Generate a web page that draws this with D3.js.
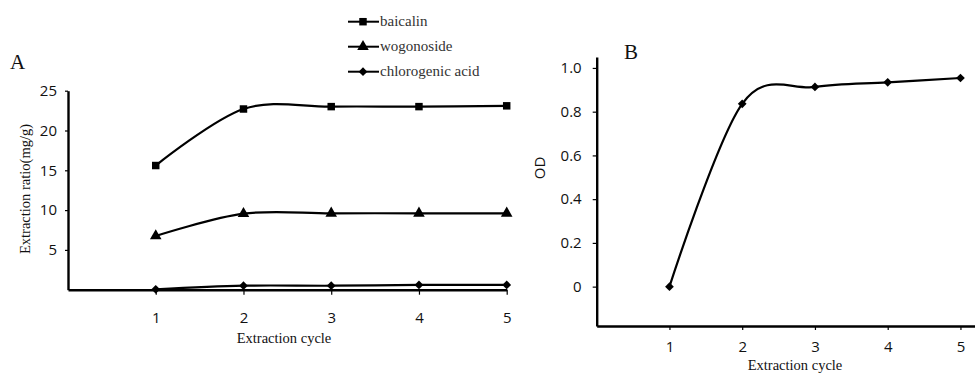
<!DOCTYPE html>
<head>
  <meta charset="utf-8">
  <script src="https://d3js.org/d3.v7.min.js"></script>
  <style>
    body { margin:0; background:#fff; }
  </style>
</head>
<body>
<script>
  var width = 975, height = 374;

  // data
  var cycles = [1, 2, 3, 4, 5];
  var baicalin = [15.6, 22.7, 23.0, 23.0, 23.1];
  var wogonoside = [6.75, 9.55, 9.6, 9.6, 9.6];
  var chlorogenicAcid = [0.05, 0.5, 0.5, 0.6, 0.6];
  var odValues = [0, 0.836, 0.913, 0.934, 0.954];
  var ticksA = [5, 10, 15, 20, 25];
  var ticksB = [0, 0.2, 0.4, 0.6, 0.8, 1.0];
  var seriesNames = ["baicalin", "wogonoside", "chlorogenic acid"];

  var sansFont = "'Open Sans', sans-serif";
  var serifFont = "'Liberation Serif', 'Times New Roman', serif";

  var svg = d3.select("body").append("svg")
    .attr("width", width)
    .attr("height", height);

  // diamonds are squares turned by 45 degrees
  var symbols = {
    "baicalin": {path: d3.symbol().type(d3.symbolSquare).size(56), rot: 0},
    "wogonoside": {path: d3.symbol().type(d3.symbolTriangle).size(58), rot: 0},
    "chlorogenic acid": {path: d3.symbol().type(d3.symbolSquare).size(38), rot: 45}
  };

  var line = function(x, y) {
    return d3.line()
      .x(function(d, i) { return x(cycles[i]); })
      .y(function(d) { return y(d); })
      .curve(d3.curveCardinal.tension(0));
  };

  function styleAxis(g) {
    g.select(".domain").attr("stroke", "#000").attr("stroke-width", 2.4);
    g.selectAll(".tick line").attr("stroke", "#000").attr("stroke-width", 1.2);
    g.selectAll(".tick text")
      .attr("fill", "#111")
      .style("font-family", sansFont)
      .style("font-size", "15px");
  }

  function drawMarkers(g, name, values, x, y) {
    var sym = symbols[name];
    g.selectAll(null)
      .data(values)
      .enter()
      .append("path")
      .attr("d", sym.path)
      .attr("transform", function(d, i) {
        return "translate(" + x(cycles[i]) + "," + y(d) + ") rotate(" + sym.rot + ")";
      })
      .attr("fill", "#000");
  }

  // ---------- panel A ----------
  var xA = d3.scaleLinear().domain([0, 5]).range([68, 506.7]);
  var yA = d3.scaleLinear().domain([0, 25]).range([289.7, 90.7]);

  var gA = svg.append("g");

  gA.append("g")
    .attr("transform", "translate(0," + yA(0) + ")")
    .call(d3.axisBottom(xA).tickValues(cycles).tickFormat(d3.format("d"))
      .tickSize(5).tickPadding(18).tickSizeOuter(0))
    .call(styleAxis);

  gA.append("g")
    .attr("transform", "translate(" + xA(0) + ",0)")
    .call(d3.axisLeft(yA).tickValues(ticksA).tickSize(3).tickPadding(8).tickSizeOuter(0))
    .call(styleAxis);

  var dataA = [
    {name: "baicalin", values: baicalin},
    {name: "wogonoside", values: wogonoside},
    {name: "chlorogenic acid", values: chlorogenicAcid}
  ];

  dataA.forEach(function(s) {
    gA.append("path")
      .datum(s.values)
      .attr("d", line(xA, yA))
      .attr("fill", "none")
      .attr("stroke", "#000")
      .attr("stroke-width", 2.2);
    drawMarkers(gA, s.name, s.values, xA, yA);
  });

  gA.append("text")
    .attr("x", 284).attr("y", 343)
    .attr("text-anchor", "middle")
    .style("font-family", serifFont).style("font-size", "14.5px")
    .attr("fill", "#111")
    .text("Extraction cycle");

  gA.append("text")
    .attr("transform", "translate(30,189) rotate(-90)")
    .attr("text-anchor", "middle")
    .style("font-family", serifFont).style("font-size", "14.5px")
    .attr("fill", "#111")
    .text("Extraction ratio(mg/g)");

  gA.append("text")
    .attr("x", 10).attr("y", 69)
    .style("font-family", serifFont).style("font-size", "21px")
    .attr("fill", "#111")
    .text("A");

  // legend
  var legend = svg.append("g");
  seriesNames.forEach(function(name, i) {
    var ly = 21.7 + i * 25;
    var sym = symbols[name];
    legend.append("line")
      .attr("x1", 348).attr("x2", 379)
      .attr("y1", ly).attr("y2", ly)
      .attr("stroke", "#000").attr("stroke-width", 2);
    legend.append("path")
      .attr("d", sym.path)
      .attr("transform", "translate(363," + ly + ") rotate(" + sym.rot + ")")
      .attr("fill", "#000");
    legend.append("text")
      .attr("x", 380).attr("y", ly + 4.5)
      .style("font-family", serifFont).style("font-size", "15px")
      .attr("fill", "#333")
      .text(name);
  });

  // ---------- panel B ----------
  var xB = d3.scaleLinear().domain([0, 5.2]).range([596.7, 975]);
  var yB = d3.scaleLinear().domain([-0.18, 1.05]).range([326, 57]);

  var gB = svg.append("g");

  gB.append("g")
    .attr("transform", "translate(0," + yB(-0.18) + ")")
    .call(d3.axisBottom(xB).tickValues(cycles).tickFormat(d3.format("d"))
      .tickSize(4).tickPadding(11).tickSizeOuter(0))
    .call(styleAxis);

  gB.append("g")
    .attr("transform", "translate(" + xB(0) + ",0)")
    .call(d3.axisLeft(yB).tickValues(ticksB).tickSize(4).tickPadding(11).tickSizeOuter(0)
      .tickFormat(function(d) { return d === 0 ? "0" : d3.format(".1f")(d); }))
    .call(styleAxis);

  gB.append("path")
    .datum(odValues)
    .attr("d", line(xB, yB))
    .attr("fill", "none")
    .attr("stroke", "#000")
    .attr("stroke-width", 2.2);

  drawMarkers(gB, "chlorogenic acid", odValues, xB, yB);

  gB.append("text")
    .attr("x", 795).attr("y", 370)
    .attr("text-anchor", "middle")
    .style("font-family", serifFont).style("font-size", "14.5px")
    .attr("fill", "#111")
    .text("Extraction cycle");

  gB.append("text")
    .attr("transform", "translate(545,168) rotate(-90)")
    .attr("text-anchor", "middle")
    .style("font-family", sansFont).style("font-size", "15px")
    .attr("fill", "#111")
    .text("OD");

  gB.append("text")
    .attr("x", 624).attr("y", 58.5)
    .style("font-family", serifFont).style("font-size", "21px")
    .attr("fill", "#111")
    .text("B");
</script>
</body>
